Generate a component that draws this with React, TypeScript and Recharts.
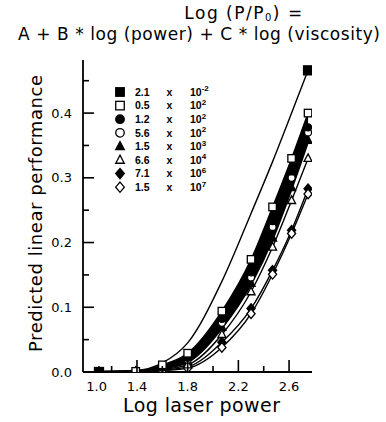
import React from 'react';
import { ComposedChart, Line, Area, XAxis, YAxis, Legend } from 'recharts';

// log laser power (x positions of the computed points)
const logPower = [1.1, 1.39, 1.6, 1.8, 2.07, 2.3, 2.47, 2.62, 2.75];
// predicted linear performance for each viscosity
const v21em2 = [0, 0.002, 0.014, 0.045, 0.14, 0.245, 0.325, 0.4, 0.466];
const v05e2 = [0, 0.001, 0.011, 0.029, 0.094, 0.174, 0.255, 0.33, 0.4];
const v12e2 = [0, 0.001, 0.008, 0.022, 0.082, 0.154, 0.233, 0.31, 0.378];
const v56e2 = [0, 0.001, 0.007, 0.019, 0.076, 0.146, 0.224, 0.3, 0.37];
const v15e3 = [0, 0.001, 0.006, 0.016, 0.069, 0.137, 0.207, 0.285, 0.358];
const v66e4 = [0, 0.0005, 0.004, 0.011, 0.058, 0.124, 0.193, 0.265, 0.33];
const v71e6 = [0, 0, 0.003, 0.008, 0.046, 0.098, 0.157, 0.219, 0.283];
const v15e7 = [0, 0, 0.002, 0.006, 0.038, 0.09, 0.151, 0.214, 0.275];

const xMajorTicks = [1.0, 1.4, 1.8, 2.2, 2.6];
const xMinorTicks = [1.2, 1.6, 2.0, 2.4];
const xTickLabels = ['1.0', '1.4', '1.8', '2.2', '2.6'];
const yMajorTicks = [0, 0.1, 0.2, 0.3, 0.4];
const yMinorTicks = [0.05, 0.15, 0.25, 0.35, 0.45];
const yTickLabels = ['0.0', '0.1', '0.2', '0.3', '0.4'];

const legendMantissa = ['2.1', '0.5', '1.2', '5.6', '1.5', '6.6', '7.1', '1.5'];
const legendExponent = ['-2', '2', '2', '2', '3', '4', '6', '7'];
const legendShapes = ['sqF', 'sqO', 'ciF', 'ciO', 'trF', 'trO', 'diF', 'diO'];

const data = logPower.map((x, i) => ({
  x,
  s1: v21em2[i],
  s2: v05e2[i],
  s3: v12e2[i],
  s4: v56e2[i],
  s5: v15e3[i],
  s6: v66e4[i],
  s7: v71e6[i],
  s8: v15e7[i],
}));

const FONT = "'DejaVu Sans', sans-serif";
const near = (a: number, b: number) => Math.abs(a - b) < 1e-6;

function marker(kind: string, cx: number, cy: number, s: number, key?: string) {
  const filled = kind.endsWith('F');
  const fill = filled ? '#000' : '#fff';
  const t = kind.slice(0, 2);
  const sw = 1.3;
  if (t === 'sq') {
    return <rect key={key} x={cx - s / 2} y={cy - s / 2} width={s} height={s} fill={fill} stroke="#000" strokeWidth={sw} />;
  }
  if (t === 'ci') {
    return <circle key={key} cx={cx} cy={cy} r={s / 2} fill={fill} stroke="#000" strokeWidth={sw} />;
  }
  if (t === 'tr') {
    const h = s * 0.95;
    return (
      <polygon
        key={key}
        points={`${cx},${cy - h * 0.6} ${cx + s / 2},${cy + h * 0.4} ${cx - s / 2},${cy + h * 0.4}`}
        fill={fill}
        stroke="#000"
        strokeWidth={sw}
      />
    );
  }
  const r = s * 0.6;
  return (
    <polygon
      key={key}
      points={`${cx},${cy - r} ${cx + r * 0.85},${cy} ${cx},${cy + r} ${cx - r * 0.85},${cy}`}
      fill={fill}
      stroke="#000"
      strokeWidth={sw}
    />
  );
}

const dotFor = (kind: string, size: number, endsOnly = false) => (p: any) => {
  const key = `${kind}-${p.index}`;
  if (p.cx == null || p.cy == null) return <g key={key} />;
  if (endsOnly && p.index !== 0 && p.index !== logPower.length - 1) return <g key={key} />;
  return marker(kind, p.cx, p.cy, size, key);
};

const BottomTick = (props: any) => {
  const { x, y, payload } = props;
  const v = payload.value;
  const mi = xMajorTicks.findIndex((t) => near(t, v));
  const major = mi >= 0;
  return (
    <g>
      {v > 1.05 && <line x1={x} x2={x} y1={y} y2={y - (major ? 12 : 6)} stroke="#000" strokeWidth={1.6} />}
      {major && (
        <text x={x} y={y + 19} textAnchor={mi === 0 ? 'start' : 'middle'} fontFamily={FONT} fontSize={13} fill="#000">
          {xTickLabels[mi]}
        </text>
      )}
    </g>
  );
};

const TopTick = (props: any) => {
  const { x, y, payload } = props;
  const v = payload.value;
  const major = xMajorTicks.some((t) => near(t, v));
  if (v < 1.05) return <g />;
  return <line x1={x} x2={x} y1={y} y2={y + (major ? 8 : 5)} stroke="#000" strokeWidth={1.6} />;
};

const LeftTick = (props: any) => {
  const { x, y, payload } = props;
  const v = payload.value;
  const mi = yMajorTicks.findIndex((t) => near(t, v));
  const major = mi >= 0;
  return (
    <g>
      {v > 0.01 && <line x1={x} x2={x + (major ? 11 : 6)} y1={y} y2={y} stroke="#000" strokeWidth={1.6} />}
      {major && (
        <text x={x - 11} y={y} dy="0.36em" textAnchor="end" fontFamily={FONT} fontSize={13} fill="#000">
          {yTickLabels[mi]}
        </text>
      )}
    </g>
  );
};

const RightTick = (props: any) => {
  const { x, y, payload } = props;
  const v = payload.value;
  const major = yMajorTicks.some((t) => near(t, v));
  if (v < 0.01) return <g />;
  return <line x1={x} x2={x - (major ? 8 : 6)} y1={y} y2={y} stroke="#000" strokeWidth={1.6} />;
};

const LEGEND_FONT = "'Liberation Sans', Arial, sans-serif";

const LegendBox = () => (
  <svg width={130} height={115} style={{ display: 'block' }}>
    {legendMantissa.map((m, i) => {
      const cy = 8 + 13.6 * i;
      return (
        <g key={i}>
          {marker(legendShapes[i], 10, cy, 8.5)}
          <text x={25} y={cy + 3.8} fontFamily={LEGEND_FONT} fontWeight="bold" fontSize={10.5} fill="#000">
            {m}
          </text>
          <text x={59.5} y={cy + 3.8} textAnchor="middle" fontFamily={LEGEND_FONT} fontWeight="bold" fontSize={10.5} fill="#000">
            x
          </text>
          <text x={80} y={cy + 3.8} fontFamily={LEGEND_FONT} fontWeight="bold" fontSize={10.5} fill="#000">
            10
            <tspan dy={-4.5} fontSize={8}>
              {legendExponent[i]}
            </tspan>
          </text>
        </g>
      );
    })}
  </svg>
);

const allXTicks = [...xMajorTicks, ...xMinorTicks].sort((a, b) => a - b);
const allYTicks = [...yMajorTicks, ...yMinorTicks].sort((a, b) => a - b);

export default function App() {
  return (
    <div style={{ position: 'absolute', left: 0, top: 0, width: 386, height: 422, background: '#fff' }}>
      <ComposedChart width={386} height={422} data={data} margin={{ top: 60, right: 74, bottom: 20, left: 33 }}>
        <XAxis
          dataKey="x"
          type="number"
          domain={[0.974, 2.781]}
          ticks={allXTicks}
          interval={0}
          allowDataOverflow
          height={30}
          tickSize={0}
          tickMargin={0}
          tickLine={false}
          tick={<BottomTick />}
          axisLine={{ stroke: '#000', strokeWidth: 1.8 }}
        />
        <XAxis
          xAxisId="top"
          orientation="top"
          dataKey="x"
          type="number"
          domain={[0.974, 2.781]}
          ticks={allXTicks}
          interval={0}
          allowDataOverflow
          height={0}
          tickSize={0}
          tickMargin={0}
          tickLine={false}
          tick={<TopTick />}
          axisLine={{ stroke: '#000', strokeWidth: 1.8 }}
        />
        <YAxis
          type="number"
          domain={[0, 0.482]}
          ticks={allYTicks}
          interval={0}
          allowDataOverflow
          width={50}
          tickSize={0}
          tickMargin={0}
          tickLine={false}
          tick={<LeftTick />}
          axisLine={{ stroke: '#000', strokeWidth: 1.8 }}
        />
        <YAxis
          yAxisId="right"
          orientation="right"
          type="number"
          domain={[0, 0.482]}
          ticks={allYTicks}
          interval={0}
          allowDataOverflow
          width={0}
          tickSize={0}
          tickMargin={0}
          tickLine={false}
          tick={<RightTick />}
          axisLine={{ stroke: '#000', strokeWidth: 1.8 }}
        />
        <Legend
          layout="vertical"
          align="center"
          verticalAlign="middle"
          content={() => <LegendBox />}
          wrapperStyle={{ position: 'absolute', left: 110, top: 84, width: 130, height: 115 }}
        />
        <Area
          dataKey={(d: any) => [d.s5, d.s2]}
          type="monotone"
          fill="#000"
          fillOpacity={1}
          stroke="none"
          isAnimationActive={false}
          activeDot={false}
          legendType="none"
        />
        <Line dataKey="s7" type="monotone" stroke="#000" strokeWidth={1.4} dot={dotFor('diF', 8)} activeDot={false} isAnimationActive={false} />
        <Line dataKey="s8" type="monotone" stroke="#000" strokeWidth={1.4} dot={dotFor('diO', 8)} activeDot={false} isAnimationActive={false} />
        <Line dataKey="s5" type="monotone" stroke="#000" strokeWidth={3} dot={dotFor('trF', 8)} activeDot={false} isAnimationActive={false} />
        <Line dataKey="s6" type="monotone" stroke="#000" strokeWidth={1.4} dot={dotFor('trO', 8)} activeDot={false} isAnimationActive={false} />
        <Line dataKey="s4" type="monotone" stroke="#000" strokeWidth={2} dot={dotFor('ciO', 7)} activeDot={false} isAnimationActive={false} />
        <Line dataKey="s3" type="monotone" stroke="#000" strokeWidth={2} dot={dotFor('ciF', 7)} activeDot={false} isAnimationActive={false} />
        <Line dataKey="s2" type="monotone" stroke="#000" strokeWidth={1.4} dot={dotFor('sqO', 7.5)} activeDot={false} isAnimationActive={false} />
        <Line dataKey="s1" type="monotone" stroke="#000" strokeWidth={1.4} dot={dotFor('sqF', 9, true)} activeDot={false} isAnimationActive={false} />
      </ComposedChart>
      <svg width={386} height={422} style={{ position: 'absolute', left: 0, top: 0, pointerEvents: 'none' }}>
        <text x={244} y={19} textAnchor="middle" letterSpacing={1.5} fontFamily={FONT} fontSize={17} fill="#000">
          Log (P/P<tspan dy={2} fontSize={10}>0</tspan><tspan dy={-2}>) =</tspan>
        </text>
        <text x={18} y={40} textLength={362} lengthAdjust="spacing" fontFamily={FONT} fontSize={17} fill="#000">
          A + B * log (power) + C * log (viscosity)
        </text>
        <text x={123} y={412} textLength={157} lengthAdjust="spacing" fontFamily={FONT} fontSize={19} fill="#000">
          Log laser power
        </text>
        <text transform="translate(42,352) rotate(-90)" x={0} y={0} textLength={277} lengthAdjust="spacing" fontFamily={FONT} fontSize={18} fill="#000">
          Predicted linear performance
        </text>
      </svg>
    </div>
  );
}
